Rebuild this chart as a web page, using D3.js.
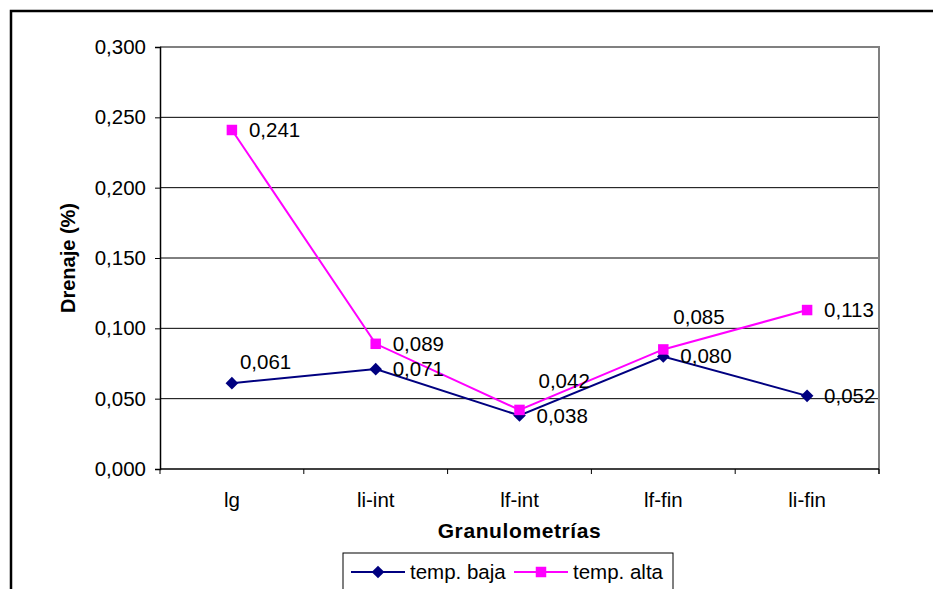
<!DOCTYPE html>
<html>
<head>
<meta charset="utf-8">
<script src="https://cdn.jsdelivr.net/npm/d3@7"></script>
<style>
  body { margin: 0; background: #fff; }
  svg { display: block; font-family: 'Liberation Sans', Arial, sans-serif; }
</style>
</head>
<body>
<svg id="chart"></svg>
<script>
// Data
const categories = ['lg', 'li-int', 'lf-int', 'lf-fin', 'li-fin'];
const tempBaja = [0.061, 0.071, 0.038, 0.080, 0.052];
const tempAlta = [0.241, 0.089, 0.042, 0.085, 0.113];
const yTicks = [0, 0.05, 0.10, 0.15, 0.20, 0.25, 0.30];
const seriesNames = ['temp. baja', 'temp. alta'];
// where each value label sits next to its point
const labelBaja = ['upright', 'right', 'right', 'right', 'right'];
const labelAlta = ['right', 'right', 'upright2', 'up', 'right'];

const W = 933, H = 589;
const plot = { left: 160, right: 879, top: 47, bottom: 469 };
const labelOffsets = {
  right: [17, 7],
  upright: [8, -14],
  upright2: [19, -22],
  up: [10, -25],
};

const es = d3.formatLocale({ decimal: ',', thousands: '.', grouping: [3], currency: ['', ''] });
const fmt = es.format('.3f');

const svg = d3.select('#chart')
  .attr('width', W)
  .attr('height', H);

// Outer frame (right and bottom fall outside the picture)
svg.append('path')
  .attr('d', `M11,${H + 5} L11,11 L${W + 5},11`)
  .attr('fill', 'none')
  .attr('stroke', '#000')
  .attr('stroke-width', 2.5);

// Scales
const x = d3.scaleBand()
  .domain(categories)
  .range([plot.left, plot.right]);
const cx = d => x(d) + x.bandwidth() / 2;

const y = d3.scaleLinear()
  .domain([0, 0.3])
  .range([plot.bottom, plot.top]);

// Gridlines
svg.append('g')
  .selectAll('line')
  .data(yTicks.filter(t => t > 0 && t < 0.3))
  .enter()
  .append('line')
    .attr('x1', plot.left)
    .attr('x2', plot.right)
    .attr('y1', d => y(d))
    .attr('y2', d => y(d))
    .attr('stroke', '#000')
    .attr('stroke-width', 1);

// Plot border top/right in gray
svg.append('path')
  .attr('d', `M${plot.left},${y(0.3)} L${plot.right},${y(0.3)} L${plot.right},${plot.bottom + 5}`)
  .attr('fill', 'none')
  .attr('stroke', '#808080')
  .attr('stroke-width', 2);

// Y Axis
const yAxis = d3.axisLeft(y)
  .tickValues(yTicks)
  .tickFormat(fmt)
  .tickSize(5)
  .tickPadding(9);
const gy = svg.append('g')
  .attr('transform', `translate(${plot.left}, 0)`)
  .call(yAxis);
gy.select('.domain').attr('stroke', '#000').attr('stroke-width', 1.5);
gy.selectAll('.tick line').attr('stroke', '#000');
gy.selectAll('.tick text')
  .attr('font-size', 20.5)
  .attr('font-family', "'Liberation Sans', Arial, sans-serif")
  .attr('fill', '#000');

gy.append('text')
  .attr('transform', `translate(${68 - plot.left}, ${(plot.top + plot.bottom) / 2}) rotate(-90)`)
  .attr('text-anchor', 'middle')
  .attr('dy', '0.35em')
  .attr('fill', '#000')
  .attr('font-size', 20)
  .attr('font-weight', 'bold')
  .text('Drenaje (%)');

// X Axis
const xAxis = d3.axisBottom(x).tickSize(0).tickPadding(23);
const gx = svg.append('g')
  .attr('transform', `translate(0, ${plot.bottom})`)
  .call(xAxis);
gx.select('.domain').remove();
gx.append('line')
  .attr('x1', plot.left)
  .attr('x2', plot.right)
  .attr('stroke', '#000')
  .attr('stroke-width', 1.5);
gx.selectAll('.boundary')
  .data(categories.concat(['end']))
  .enter()
  .append('line')
    .attr('class', 'boundary')
    .attr('x1', (d, i) => i < categories.length ? x(d) : plot.right)
    .attr('x2', (d, i) => i < categories.length ? x(d) : plot.right)
    .attr('y1', 0)
    .attr('y2', 5)
    .attr('stroke', '#000');
gx.selectAll('.tick text')
  .attr('font-size', 20.5)
  .attr('font-family', "'Liberation Sans', Arial, sans-serif")
  .attr('fill', '#000');

svg.append('text')
  .attr('x', (plot.left + plot.right) / 2)
  .attr('y', 538)
  .attr('text-anchor', 'middle')
  .attr('font-size', 21)
  .attr('font-weight', 'bold')
  .attr('letter-spacing', 0.6)
  .attr('fill', '#000')
  .text('Granulometrías');

// Series (diamond = square turned 45 degrees, like the spreadsheet marker)
const series = [
  { name: seriesNames[0], values: tempBaja, pos: labelBaja, color: '#000080', rot: 45, size: 80 },
  { name: seriesNames[1], values: tempAlta, pos: labelAlta, color: '#FF00FF', rot: 0, size: 110 },
];
const marker = s => d3.symbol().type(d3.symbolSquare).size(s.size)();

const line = d3.line()
  .x((d, i) => cx(categories[i]))
  .y(d => y(d));

series.forEach(s => {
  const g = svg.append('g');
  g.append('path')
    .attr('d', line(s.values))
    .attr('fill', 'none')
    .attr('stroke', s.color)
    .attr('stroke-width', 2);

  g.selectAll('.marker')
    .data(s.values)
    .enter()
    .append('path')
      .attr('class', 'marker')
      .attr('transform', (d, i) => `translate(${cx(categories[i])}, ${y(d)}) rotate(${s.rot})`)
      .attr('d', marker(s))
      .attr('fill', s.color);
});

// Value labels on top
series.forEach(s => {
  svg.append('g')
    .selectAll('text')
    .data(s.values)
    .enter()
    .append('text')
      .attr('x', (d, i) => cx(categories[i]) + labelOffsets[s.pos[i]][0])
      .attr('y', (d, i) => y(d) + labelOffsets[s.pos[i]][1])
      .attr('font-size', 20.5)
      .attr('fill', '#000')
      .text(d => fmt(d));
});

// Legend
const legend = svg.append('g').attr('transform', 'translate(343, 553)');
legend.append('rect')
  .attr('width', 330)
  .attr('height', 60)
  .attr('fill', '#fff')
  .attr('stroke', '#000')
  .attr('stroke-width', 1);

const itemX = [8, 171];
series.forEach((s, i) => {
  const it = legend.append('g').attr('transform', `translate(${itemX[i]}, 19)`);
  it.append('line')
    .attr('x1', 0)
    .attr('x2', 54)
    .attr('stroke', s.color)
    .attr('stroke-width', 2);
  it.append('path')
    .attr('transform', `translate(27, 0) rotate(${s.rot})`)
    .attr('d', marker(s))
    .attr('fill', s.color);
  it.append('text')
    .attr('x', 59)
    .attr('y', 7)
    .attr('font-size', 20.5)
    .attr('fill', '#000')
    .text(s.name);
});
</script>
</body>
</html>
